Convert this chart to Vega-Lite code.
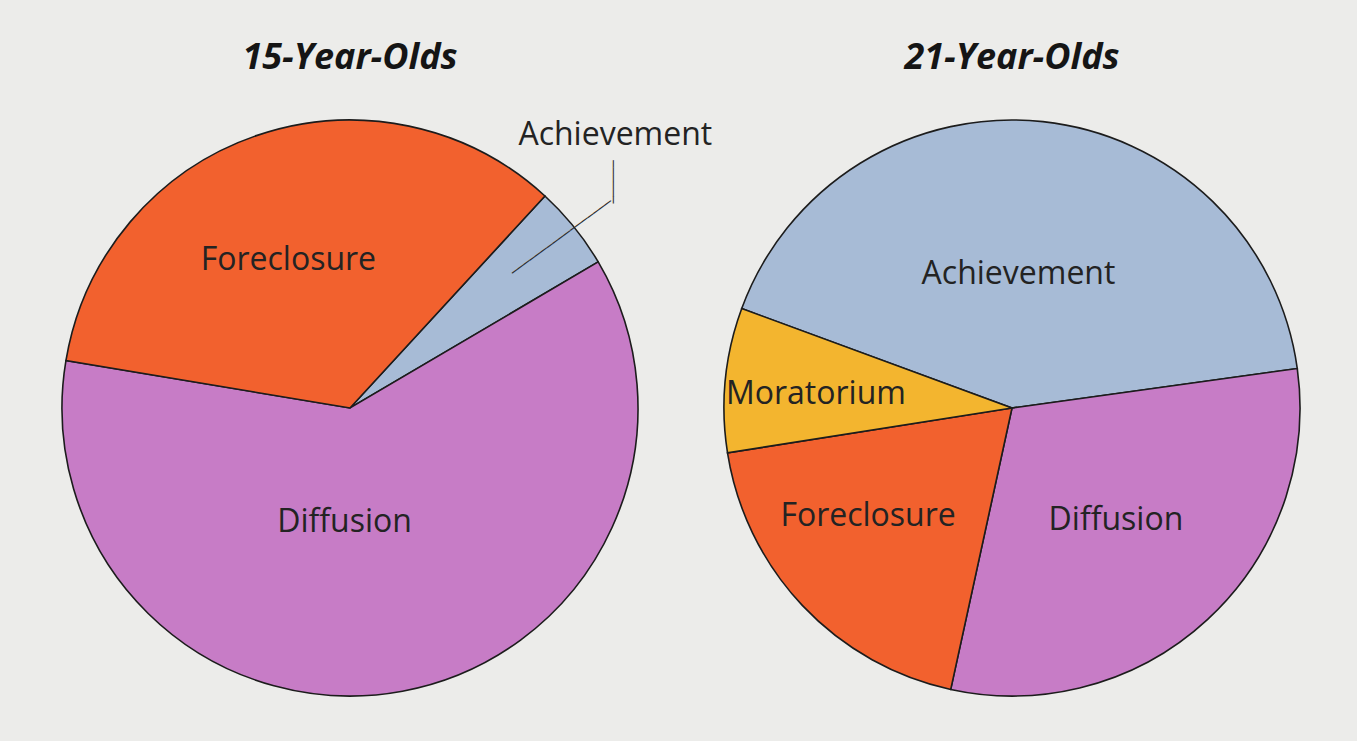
{
  "$schema": "https://vega.github.io/schema/vega-lite/v6.json",
  "background": "#ECECEA",
  "padding": {"left": 50, "top": 40, "right": 45, "bottom": 44},
  "spacing": 62,
  "bounds": "flush",
  "config": {
    "view": {"stroke": null},
    "title": {"font": "Open Sans", "fontSize": 36, "fontStyle": "italic", "fontWeight": "bold", "color": "#151515", "anchor": "middle", "baseline": "alphabetic", "offset": 31},
    "text": {"font": "Open Sans", "fontSize": 32, "color": "#232323"}
  },
  "hconcat": [
    {
      "width": 600,
      "height": 600,
      "title": "15-Year-Olds",
      "data": {"values": [
        {"status": "Achievement", "pct": 4.7},
        {"status": "Diffusion", "pct": 61.1},
        {"status": "Foreclosure", "pct": 34.2}
      ]},
      "layer": [
        {
          "mark": {"type": "arc", "outerRadius": 288, "stroke": "#1c1c1c", "strokeWidth": 1.6},
          "encoding": {
            "theta": {"field": "pct", "type": "quantitative", "stack": true, "scale": {"range": [0.7435, 7.0267]}},
            "order": {"field": "status", "type": "ordinal", "sort": "ascending"},
            "color": {"field": "status", "type": "nominal", "legend": null,
              "scale": {"domain": ["Achievement", "Diffusion", "Foreclosure", "Moratorium"], "range": ["#A7BBD6", "#C77CC6", "#F2612E", "#F3B52F"]}}
          }
        },
        {
          "transform": [
            {"window": [{"op": "sum", "field": "pct", "as": "cum"}], "sort": [{"field": "status"}], "frame": [null, 0]},
            {"calculate": "datum.cum - datum.pct / 2", "as": "mid"},
            {"filter": "datum.status === 'Foreclosure'"}
          ],
          "mark": {"type": "text", "radius": 162, "dx": -9, "dy": 5},
          "encoding": {"theta": {"field": "mid", "type": "quantitative"}, "text": {"field": "status"}}
        },
        {
          "transform": [
            {"window": [{"op": "sum", "field": "pct", "as": "cum"}], "sort": [{"field": "status"}], "frame": [null, 0]},
            {"calculate": "datum.cum - datum.pct / 2", "as": "mid"},
            {"filter": "datum.status === 'Diffusion'"}
          ],
          "mark": {"type": "text", "radius": 113, "dx": -26, "dy": 3},
          "encoding": {"theta": {"field": "mid", "type": "quantitative"}, "text": {"field": "status"}}
        },
        {
          "transform": [
            {"window": [{"op": "sum", "field": "pct", "as": "cum"}], "sort": [{"field": "status"}], "frame": [null, 0]},
            {"calculate": "datum.cum - datum.pct / 2", "as": "mid"},
            {"filter": "datum.status === 'Achievement'"}
          ],
          "layer": [
            {
              "mark": {"type": "text", "radius": 381, "dx": -31, "dy": -34},
              "encoding": {"theta": {"field": "mid", "type": "quantitative"}, "text": {"field": "status"}}
            },
            {
              "mark": {"type": "text", "radius": 272, "angle": 323.7, "font": "DejaVu Sans", "fontSize": 12, "color": "#2a2a2a"},
              "encoding": {"theta": {"field": "mid", "type": "quantitative"}, "text": {"value": "─────────────────"}}
            },
            {
              "mark": {"type": "text", "radius": 347, "dx": -8, "dy": 7, "angle": 90, "font": "DejaVu Sans", "fontSize": 12, "color": "#2a2a2a"},
              "encoding": {"theta": {"field": "mid", "type": "quantitative"}, "text": {"value": "──────"}}
            }
          ]
        }
      ]
    },
    {
      "width": 600,
      "height": 600,
      "title": "21-Year-Olds",
      "data": {"values": [
        {"status": "Achievement", "pct": 42.2},
        {"status": "Diffusion", "pct": 30.6},
        {"status": "Foreclosure", "pct": 19.1},
        {"status": "Moratorium", "pct": 8.1}
      ]},
      "transform": [
        {"window": [{"op": "sum", "field": "pct", "as": "cum"}], "sort": [{"field": "status"}], "frame": [null, 0]},
        {"calculate": "datum.cum - datum.pct / 2", "as": "mid"}
      ],
      "layer": [
        {
          "mark": {"type": "arc", "outerRadius": 288, "stroke": "#1c1c1c", "strokeWidth": 1.6},
          "encoding": {
            "theta": {"field": "pct", "type": "quantitative", "stack": true, "scale": {"range": [5.065, 11.3482]}},
            "order": {"field": "status", "type": "ordinal", "sort": "ascending"},
            "color": {"field": "status", "type": "nominal", "legend": null,
              "scale": {"domain": ["Achievement", "Diffusion", "Foreclosure", "Moratorium"], "range": ["#A7BBD6", "#C77CC6", "#F2612E", "#F3B52F"]}}
          }
        },
        {
          "transform": [{"filter": "datum.status === 'Achievement'"}],
          "mark": {"type": "text", "radius": 135, "dx": -8},
          "encoding": {"theta": {"field": "mid", "type": "quantitative"}, "text": {"field": "status"}}
        },
        {
          "transform": [{"filter": "datum.status === 'Moratorium'"}],
          "mark": {"type": "text", "radius": 197, "dy": 5},
          "encoding": {"theta": {"field": "mid", "type": "quantitative"}, "text": {"field": "status"}}
        },
        {
          "transform": [{"filter": "datum.status === 'Foreclosure'"}],
          "mark": {"type": "text", "radius": 158, "dx": -29},
          "encoding": {"theta": {"field": "mid", "type": "quantitative"}, "text": {"field": "status"}}
        },
        {
          "transform": [{"filter": "datum.status === 'Diffusion'"}],
          "mark": {"type": "text", "radius": 153},
          "encoding": {"theta": {"field": "mid", "type": "quantitative"}, "text": {"field": "status"}}
        }
      ]
    }
  ]
}
